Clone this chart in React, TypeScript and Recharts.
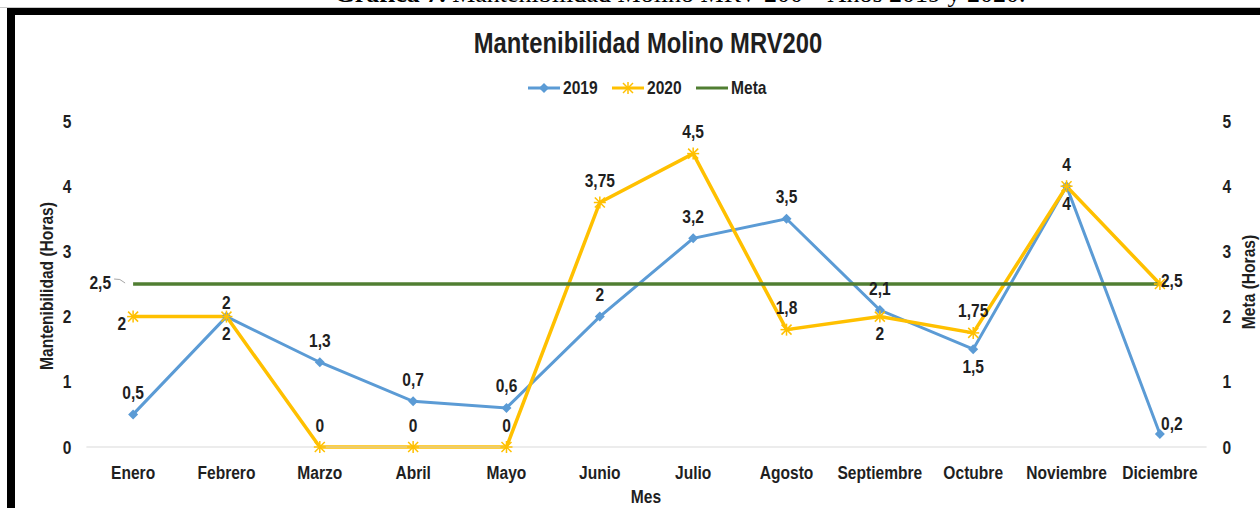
import { LineChart, Line, XAxis, YAxis, LabelList } from 'recharts'

const months = ['Enero', 'Febrero', 'Marzo', 'Abril', 'Mayo', 'Junio', 'Julio', 'Agosto', 'Septiembre', 'Octubre', 'Noviembre', 'Diciembre']
const values2019 = [0.5, 2, 1.3, 0.7, 0.6, 2, 3.2, 3.5, 2.1, 1.5, 4, 0.2]
const values2020 = [2, 2, 0, 0, 0, 3.75, 4.5, 1.8, 2, 1.75, 4, 2.5]
const metaValues = [2.5, 2.5, 2.5, 2.5, 2.5, 2.5, 2.5, 2.5, 2.5, 2.5, 2.5, 2.5]
const yTicks = [0, 1, 2, 3, 4, 5]

// where each data label sits relative to its point
const place2019 = ['top', 'bottom', 'top', 'top', 'top', 'top', 'top', 'top', 'top', 'bottom', 'bottom', 'topRight']
const place2020 = ['left', 'topClose', 'top', 'top', 'top', 'top', 'top', 'top', 'bottom', 'top', 'top', 'right']

const BLUE = '#5B9BD5'
const YELLOW = '#FFC000'
const GREEN = '#507E32'
const TEXT = '#1f1f1f'
const FONT = '"Liberation Sans", Arial, sans-serif'
const FS = 19
const NARROW = 0.82 // fake Arial Narrow by squeezing Arial horizontally

const data = months.map((m, i) => ({
  month: m,
  y2019: values2019[i],
  y2020: values2020[i],
  meta: metaValues[i],
}))

const fmt = (v: number) => String(v).replace('.', ',')

// narrow svg text centred vertically on (x, y)
const NText = ({ x, y, anchor = 'middle', children }: { x: number; y: number; anchor?: 'middle' | 'start' | 'end'; children: any }) => (
  <text
    transform={`translate(${x},${y}) scale(${NARROW},1)`}
    textAnchor={anchor}
    dominantBaseline="central"
    fontFamily={FONT}
    fontWeight="bold"
    fontSize={FS}
    fill={TEXT}
  >
    {children}
  </text>
)

const XTick = (props: any) => <NText x={props.x} y={props.y + 7}>{props.payload.value}</NText>
const LeftTick = (props: any) => <NText x={props.x} y={props.y} anchor="end">{props.payload.value}</NText>
const RightTick = (props: any) => <NText x={props.x} y={props.y} anchor="start">{props.payload.value}</NText>

const Diamond = (props: any) => {
  const { cx, cy } = props
  if (cx == null || cy == null) return null
  return <path d={`M${cx},${cy - 5} L${cx + 5},${cy} L${cx},${cy + 5} L${cx - 5},${cy} Z`} fill={BLUE} />
}

const Star = (props: any) => {
  const { cx, cy } = props
  if (cx == null || cy == null) return null
  const s = 5
  return (
    <g stroke={YELLOW} strokeWidth={1.5}>
      <line x1={cx - s} y1={cy - s} x2={cx + s} y2={cy + s} />
      <line x1={cx - s} y1={cy + s} x2={cx + s} y2={cy - s} />
      <line x1={cx} y1={cy - s - 1} x2={cx} y2={cy + s + 1} />
      <line x1={cx - s - 1} y1={cy} x2={cx + s + 1} y2={cy} />
    </g>
  )
}

const makeLabel = (placements: string[]) => (props: any) => {
  const { x, y, value, index } = props
  const p = placements[index]
  let dx = 0
  let dy = -22
  let anchor: 'middle' | 'start' | 'end' = 'middle'
  if (p === 'topClose') dy = -14
  if (p === 'bottom') dy = 17
  if (p === 'left') { dx = -7; dy = 7; anchor = 'end' }
  if (p === 'right') { dx = 1; dy = -4; anchor = 'start' }
  if (p === 'topRight') { dx = 12; dy = -11 }
  return <NText x={x + dx} y={y + dy} anchor={anchor}>{fmt(value)}</NText>
}

const MetaLabel = (props: any) => {
  const { x, y, value, index } = props
  if (index !== 0) return null
  return (
    <g>
      <path d={`M${x - 19},${y - 5} Q${x - 13},${y - 6} ${x - 8},${y - 1}`} stroke="#a6a6a6" strokeWidth={1} fill="none" />
      <NText x={x - 22} y={y - 2} anchor="end">{fmt(value)}</NText>
    </g>
  )
}

const narrowSpan = (extra: string) => ({ display: 'inline-block', transform: `${extra} scaleX(${NARROW})` })

const LegendItem = ({ color, label, marker, width }: { color: string; label: string; marker: 'diamond' | 'star' | 'none'; width: number }) => (
  <div style={{ display: 'flex', alignItems: 'center', marginRight: 14 }}>
    <svg width={32} height={14}>
      <line x1={0} y1={7} x2={32} y2={7} stroke={color} strokeWidth={3} />
      {marker === 'diamond' && <Diamond cx={16} cy={7} />}
      {marker === 'star' && <Star cx={16} cy={7} />}
    </svg>
    <span style={{ ...narrowSpan(''), transformOrigin: 'left center', marginLeft: 3, width }}>{label}</span>
  </div>
)

const bold = { fontFamily: FONT, fontWeight: 'bold' as const, fontSize: FS, color: TEXT, whiteSpace: 'nowrap' as const }

export default function App() {
  return (
    <div style={{ position: 'absolute', left: 0, top: 0, width: 1260, height: 508, overflow: 'hidden', background: '#fff' }}>
      <div style={{ position: 'absolute', left: 0, top: -16, width: 1360, textAlign: 'center', fontFamily: '"Liberation Serif", "Times New Roman", serif', fontSize: 26, lineHeight: '20px', whiteSpace: 'nowrap', color: '#000' }}>
        <b>Gráfica 7.</b> Mantenibilidad Molino MRV-200 – Años 2019 y 2020.
      </div>
      <div style={{ position: 'absolute', left: 0, top: 7, width: 1260, height: 1, background: '#c8c8c8' }} />
      <div style={{ position: 'absolute', left: 7, top: 8, width: 1253, height: 7, background: '#000' }} />
      <div style={{ position: 'absolute', left: 7, top: 8, width: 8, height: 500, background: '#000' }} />

      <div style={{ ...bold, position: 'absolute', left: 648, top: 43, fontSize: 29, ...narrowSpan('translate(-50%, -50%)') }}>
        Mantenibilidad Molino MRV200
      </div>

      <div style={{ ...bold, position: 'absolute', left: 528, top: 77, display: 'flex' }}>
        <LegendItem color={BLUE} label="2019" marker="diamond" width={35} />
        <LegendItem color={YELLOW} label="2020" marker="star" width={35} />
        <LegendItem color={GREEN} label="Meta" marker="none" width={40} />
      </div>

      <div style={{ ...bold, position: 'absolute', left: 47, top: 286, display: 'inline-block', transform: `translate(-50%, -50%) rotate(-90deg) scaleX(${NARROW})` }}>
        Mantenibilidad (Horas)
      </div>
      <div style={{ ...bold, position: 'absolute', left: 1249, top: 282, display: 'inline-block', transform: `translate(-50%, -50%) rotate(-90deg) scaleX(${NARROW})` }}>
        Meta (Horas)
      </div>
      <div style={{ ...bold, position: 'absolute', left: 646, top: 497, ...narrowSpan('translate(-50%, -50%)') }}>
        Mes
      </div>

      <div style={{ position: 'absolute', left: 0, top: 0 }}>
        <LineChart width={1260} height={508} data={data} margin={{ top: 121, right: 13.4, bottom: 31, left: 26.4 }}>
          <XAxis
            dataKey="month"
            interval={0}
            height={30}
            padding={{ left: 46.7, right: 46.7 }}
            tickLine={false}
            tickSize={6}
            tickMargin={12}
            axisLine={{ stroke: '#d9d9d9', strokeWidth: 1 }}
            tick={<XTick />}
          />
          <YAxis
            yAxisId="left"
            width={60}
            domain={[0, 5]}
            ticks={yTicks}
            tickLine={false}
            axisLine={false}
            tickSize={6}
            tickMargin={9}
            tick={<LeftTick />}
          />
          <YAxis
            yAxisId="right"
            orientation="right"
            width={40}
            domain={[0, 5]}
            ticks={yTicks}
            tickLine={false}
            axisLine={false}
            tickSize={6}
            tickMargin={10}
            tick={<RightTick />}
          />
          <Line yAxisId="left" dataKey="y2019" stroke={BLUE} strokeWidth={3} dot={<Diamond />} activeDot={false} isAnimationActive={false}>
            <LabelList dataKey="y2019" content={makeLabel(place2019)} />
          </Line>
          <Line yAxisId="left" dataKey="y2020" stroke={YELLOW} strokeWidth={3.5} dot={<Star />} activeDot={false} isAnimationActive={false}>
            <LabelList dataKey="y2020" content={makeLabel(place2020)} />
          </Line>
          <Line yAxisId="right" dataKey="meta" stroke={GREEN} strokeWidth={3.5} dot={false} activeDot={false} isAnimationActive={false}>
            <LabelList dataKey="meta" content={<MetaLabel />} />
          </Line>
        </LineChart>
      </div>
    </div>
  )
}
